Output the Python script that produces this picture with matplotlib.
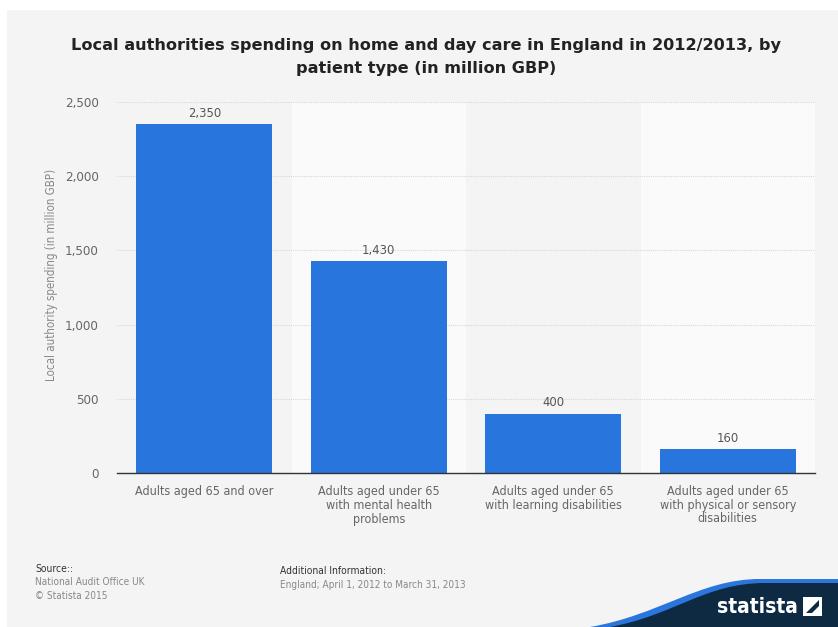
import matplotlib
matplotlib.use('Agg')
import matplotlib.pyplot as plt
import matplotlib.patches as mpatches
from matplotlib.path import Path

categories = ['Adults aged 65 and over',
              'Adults aged under 65\nwith mental health\nproblems',
              'Adults aged under 65\nwith learning disabilities',
              'Adults aged under 65\nwith physical or sensory\ndisabilities']
values = [2350, 1430, 400, 160]
yticks = [0, 500, 1000, 1500, 2000, 2500]

title = 'Local authorities spending on home and day care in England in 2012/2013, by\npatient type (in million GBP)'
ylabel = 'Local authority spending (in million GBP)'

W, H = 838, 627
fig = plt.figure(figsize=(W / 100, H / 100), dpi=100, facecolor='white')

# background / footer layer in pixel coords
bg = fig.add_axes([0, 0, 1, 1], zorder=0)
bg.set_xlim(0, W)
bg.set_ylim(H, 0)
bg.axis('off')
bg.add_patch(mpatches.Rectangle((7, 10), W - 7, H - 10, color='#f4f4f4', lw=0))

cond = dict(family='DejaVu Sans', fontstretch='condensed')

bg.text(W / 2 + 7, 57, title, ha='center', va='center', fontsize=11.6,
        fontweight='bold', color='#222222', linespacing=1.6)

bg.text(35, 569, 'Source::', fontsize=7.4, color='#333333', va='center', **cond)
bg.text(35, 582, 'National Audit Office UK', fontsize=7.2, color='#888888', va='center', **cond)
bg.text(35, 596, '\u00a9 Statista 2015', fontsize=7.2, color='#888888', va='center', **cond)
bg.text(280, 571, 'Additional Information:', fontsize=7.4, color='#333333', va='center', **cond)
bg.text(280, 585, 'England; April 1, 2012 to March 31, 2013', fontsize=7.2, color='#888888', va='center', **cond)

# statista swoosh
blue = Path([(590, 627), (660, 615), (700, 579), (760, 579), (838, 579),
             (838, 627), (590, 627)],
            [Path.MOVETO, Path.CURVE4, Path.CURVE4, Path.CURVE4, Path.LINETO,
             Path.LINETO, Path.CLOSEPOLY])
navy = Path([(610, 627), (675, 615), (705, 583), (765, 583), (838, 583),
             (838, 627), (610, 627)],
            [Path.MOVETO, Path.CURVE4, Path.CURVE4, Path.CURVE4, Path.LINETO,
             Path.LINETO, Path.CLOSEPOLY])
bg.add_patch(mpatches.PathPatch(blue, fc='#2a76dc', ec='none'))
bg.add_patch(mpatches.PathPatch(navy, fc='#0e2a43', ec='none'))
bg.text(757, 607, 'statista', ha='center', va='center', fontsize=15,
        fontweight='bold', color='white', **cond)
bg.add_patch(mpatches.Rectangle((803, 597), 19, 19, fc='white', ec='none'))
bg.add_patch(mpatches.Polygon([(806, 613), (819, 600), (819, 606), (812, 613)],
                              fc='#0e2a43', ec='none'))

# main chart
ax = fig.add_axes([117 / W, 1 - 473 / H, (815 - 117) / W, (473 - 102) / H], zorder=1)
ax.set_facecolor('none')
x = list(range(len(categories)))
for i in x:
    if i % 2 == 1:
        ax.axvspan(i - 0.5, i + 0.5, color='#fafafa', lw=0, zorder=0)
for t in yticks[1:]:
    ax.axhline(t, color='#d8d8d8', lw=0.8, ls=(0, (1, 1)), zorder=1)

bars = ax.bar(x, values, width=0.78, color='#2876dd', zorder=2)
for xi, v in zip(x, values):
    ax.text(xi, v + 28, f'{v:,}', ha='center', va='bottom', fontsize=9.3,
            color='#555555', **cond)

ax.set_xlim(-0.5, len(categories) - 0.5)
ax.set_ylim(0, 2500)
ax.set_yticks(yticks)
ax.set_yticklabels([f'{t:,}' for t in yticks], fontsize=9.5, color='#666666', **cond)
ax.set_xticks(x)
ax.set_xticklabels(categories, fontsize=9, color='#666666', linespacing=1.05, **cond)
ax.tick_params(axis='both', length=0)
ax.tick_params(axis='x', pad=9)
ax.tick_params(axis='y', pad=13)
for s in ['top', 'right', 'left']:
    ax.spines[s].set_visible(False)
ax.spines['bottom'].set_color('#333333')
ax.spines['bottom'].set_linewidth(1)
ax.spines['bottom'].set_zorder(3)

fig.text(52 / W, 1 - 275 / H, ylabel, rotation=90, ha='center', va='center',
         fontsize=8.3, color='#888888', zorder=2, **cond)

fig.savefig('out.png', dpi=100, facecolor='white')
